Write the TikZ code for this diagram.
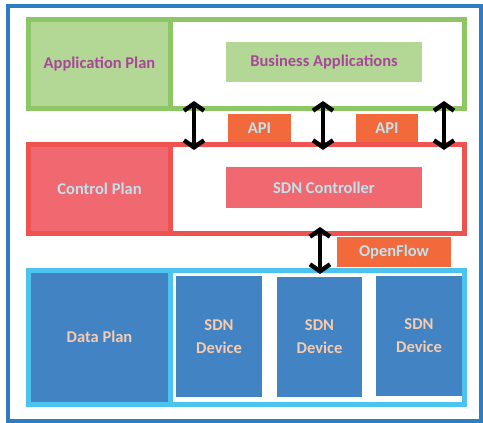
\documentclass[tikz,border=0pt]{standalone}
\usepackage{fontspec}
\setmainfont{Carlito}
\usetikzlibrary{arrows.meta}
\definecolor{outerblue}{HTML}{2E7DC0}
\definecolor{appborder}{HTML}{8CC665}
\definecolor{appfill}{HTML}{B3D794}
\definecolor{apptext}{HTML}{A8479A}
\definecolor{ctlborder}{HTML}{EE5350}
\definecolor{ctlfill}{HTML}{F06870}
\definecolor{ctltext}{HTML}{BEE3EE}
\definecolor{databorder}{HTML}{4BC3EE}
\definecolor{datafill}{HTML}{4283C3}
\definecolor{datatext}{HTML}{F7CBAE}
\definecolor{tagfill}{HTML}{F26A3B}
\tikzset{
  frame/.style={fill=white, rectangle, inner sep=0pt, outer sep=0pt, anchor=north west},
  box/.style={rectangle, inner sep=0pt, outer sep=0pt, align=center, font=\bfseries\fontsize{16.5}{23}\selectfont},
  dblarrow/.style={line width=4.4pt, {Straight Barb[length=7pt,width=20pt]}-{Straight Barb[length=7pt,width=20pt]}}
}
\begin{document}
\begin{tikzpicture}[x=1pt,y=-1pt]
\useasboundingbox (0,0) rectangle (483,423);
\fill[white] (0,0) rectangle (483,423);
\draw[outerblue, line width=4pt] (8,6) rectangle (481,421);

% application layer
\node[frame, minimum width=436pt, minimum height=89pt] (appframe) at (28.5,19.5) {};
\node[box, fill=appfill, text=apptext, minimum width=142pt, minimum height=89pt, anchor=north west] (applabel) at (28.5,19.5) {Application Plan};
\draw[appborder, line width=5pt] (applabel.north east) -- (applabel.south east);
\draw[appborder, line width=5pt] (appframe.north west) rectangle (appframe.south east);
\node[box, fill=appfill, text=apptext, minimum width=196pt, minimum height=40pt] (business) at (324,62) {Business Applications};

% control layer
\node[frame, minimum width=436pt, minimum height=89pt] (ctlframe) at (28.5,144.5) {};
\node[box, fill=ctlfill, text=ctltext, minimum width=142pt, minimum height=89pt, anchor=north west] (ctllabel) at (28.5,144.5) {Control Plan};
\draw[ctlborder, line width=5pt] (ctllabel.north east) -- (ctllabel.south east);
\draw[ctlborder, line width=5pt] (ctlframe.north west) rectangle (ctlframe.south east);
\node[box, fill=ctlfill, text=ctltext, minimum width=196pt, minimum height=41pt] (controller) at (324,187.5) {SDN Controller};

% data layer
\node[frame, minimum width=436pt, minimum height=134pt] (dataframe) at (28.5,270) {};
\node[box, fill=datafill, text=datatext, minimum width=142pt, minimum height=134pt, anchor=north west] (datalabel) at (28.5,270) {Data Plan};
\draw[databorder, line width=5pt] (datalabel.north east) -- (datalabel.south east);
\draw[databorder, line width=5pt] (dataframe.north west) rectangle (dataframe.south east);
\node[box, fill=datafill, text=datatext, minimum width=86pt, minimum height=121pt] (dev1) at (219,336.5) {SDN\\Device};
\node[box, fill=datafill, text=datatext, minimum width=85pt, minimum height=120pt] (dev2) at (319.5,337) {SDN\\Device};
\node[box, fill=datafill, text=datatext, minimum width=86pt, minimum height=120pt] (dev3) at (419,336) {SDN\\Device};

% tags
\node[box, fill=tagfill, text=ctltext, minimum width=63pt, minimum height=28pt] (api1) at (259.5,128) {API};
\node[box, fill=tagfill, text=ctltext, minimum width=62pt, minimum height=28pt] (api2) at (387,128) {API};
\node[box, fill=tagfill, text=ctltext, minimum width=114pt, minimum height=30pt] (openflow) at (394,252) {OpenFlow};

% arrows
\coordinate (a1t) at (194,101); \coordinate (a1b) at (194,150);
\coordinate (a2t) at (323,101); \coordinate (a2b) at (323,150);
\coordinate (a3t) at (444,101); \coordinate (a3b) at (444,150);
\coordinate (a4t) at (320,227); \coordinate (a4b) at (320,274);
\draw[dblarrow] (a1t) -- (a1b);
\draw[dblarrow] (a2t) -- (a2b);
\draw[dblarrow] (a3t) -- (a3b);
\draw[dblarrow] (a4t) -- (a4b);
\end{tikzpicture}
\end{document}
